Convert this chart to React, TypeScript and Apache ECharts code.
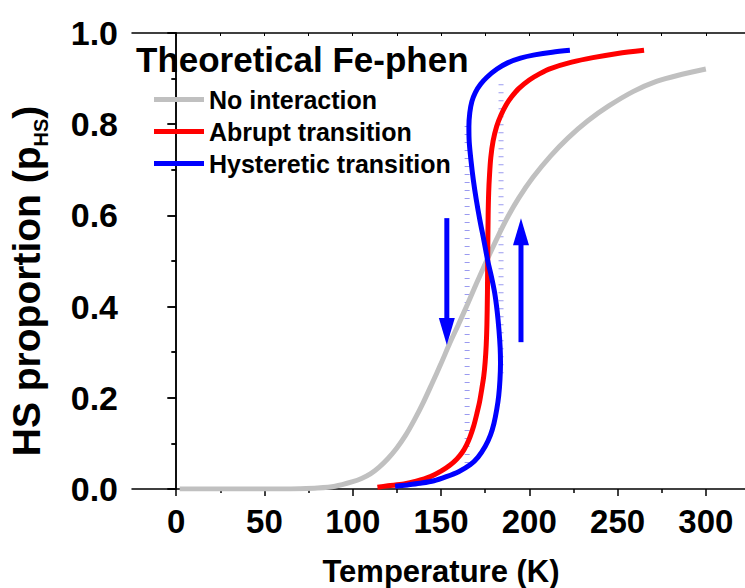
import React, { useEffect, useRef } from "react";
import * as echarts from "echarts";

// ---- data ----
const seriesNames = ["No interaction", "Abrupt transition", "Hysteretic transition"];
const seriesColors = ["#c0c0c0", "#ff0000", "#0000ff"];

// Temperature (K), HS proportion
const noInteraction: number[][] = [
  [2, 0], [20, 0], [40, 0], [60, 0], [70, 0.0005], [80, 0.002], [90, 0.006], [100, 0.016],
  [105, 0.023], [110, 0.033], [115, 0.048], [120, 0.067], [125, 0.09], [130, 0.118], [135, 0.152],
  [140, 0.19], [145, 0.232], [150, 0.275], [155, 0.32], [160, 0.362], [165, 0.405], [170, 0.45],
  [176, 0.502], [182, 0.552], [188, 0.598], [194, 0.638], [202, 0.683], [212, 0.73], [222, 0.77],
  [233, 0.807], [245, 0.84], [259, 0.872], [272, 0.894], [286, 0.909], [300, 0.921],
];

const abrupt: number[][] = [
  [114, 0.004], [120, 0.007], [129, 0.011], [136, 0.017], [144, 0.027], [150, 0.039], [155, 0.052],
  [159, 0.066], [162, 0.08], [164.5, 0.097], [166.5, 0.115], [168.5, 0.138], [170.3, 0.165],
  [171.8, 0.19], [173, 0.217], [174.2, 0.247], [175, 0.278], [175.6, 0.315], [176, 0.36],
  [176.3, 0.43], [176.5, 0.53], [176.7, 0.6], [177, 0.65], [177.5, 0.69], [178.2, 0.727],
  [179.5, 0.763], [181.5, 0.795], [184, 0.82], [187, 0.843], [190, 0.86], [194, 0.878],
  [200, 0.897], [206, 0.911], [212, 0.922], [224, 0.936], [236, 0.946], [250, 0.955], [265, 0.962],
];

const hysteretic: number[][] = [
  [124, 0.006], [131, 0.009], [138, 0.0125], [146, 0.018], [153, 0.027], [160, 0.038],
  [166.5, 0.053], [171, 0.07], [175, 0.093], [178, 0.118], [180, 0.144], [181.6, 0.175],
  [182.7, 0.205], [183.4, 0.24], [183.7, 0.276], [183.5, 0.31], [182.8, 0.35], [181.8, 0.39],
  [180.4, 0.43], [178.6, 0.465], [176.5, 0.5], [174.3, 0.545], [172, 0.59], [170, 0.634],
  [168.3, 0.678], [167, 0.72], [166, 0.76], [165.8, 0.795], [166.3, 0.825], [167.5, 0.85],
  [169.5, 0.87], [172.5, 0.888], [176, 0.903], [181.7, 0.921], [188, 0.935], [195, 0.945],
  [203, 0.952], [213, 0.958], [223, 0.962],
];

// vertical dotted guide lines: [T, pFrom, pTo]
const spinodals: number[][] = [
  [164.8, 0.057, 0.81],
  [184, 0.254, 0.903],
];

// arrows: [T, pStart, pTip]
const arrows: number[][] = [
  [153.3, 0.594, 0.316],
  [195.3, 0.322, 0.594],
];

const xMajorTicks = [0, 50, 100, 150, 200, 250, 300];
const xMinorTicks = [25, 75, 125, 175, 225, 275, 325];
const xAllTicks = [0, 25, 50, 75, 100, 125, 150, 175, 200, 225, 250, 275, 300];

const titleText = "Theoretical Fe-phen";
const xName = "Temperature (K)";
const yNameMain = "HS proportion (p";
const yNameSub = "HS";
const yNameEnd = ")";

const FONT = '"Liberation Sans", Arial, Helvetica, sans-serif';

export default function App() {
  const ref = useRef<HTMLDivElement>(null);

  useEffect(() => {
    const chart = echarts.init(ref.current!, null, { renderer: "svg" });

    const lineSeries = [noInteraction, abrupt, hysteretic].map((d, i) => ({
      type: "line",
      name: seriesNames[i],
      data: d,
      xAxisIndex: 0,
      yAxisIndex: 0,
      showSymbol: false,
      symbol: "none",
      smooth: 0.3,
      z: 3 + i,
      color: seriesColors[i],
      lineStyle: { color: seriesColors[i], width: 5 },
    }));

    const option: any = {
      animation: false,
      backgroundColor: "#ffffff",
      textStyle: { fontFamily: FONT },
      title: {
        text: titleText,
        left: 136,
        top: 42,
        padding: 0,
        textStyle: { fontSize: 35, fontWeight: "bold", color: "#000", fontFamily: FONT },
      },
      legend: {
        data: seriesNames,
        orient: "vertical",
        left: 154,
        top: 87,
        padding: 0,
        itemWidth: 50,
        itemHeight: 5,
        itemGap: 7,
        icon: "rect",
        textStyle: { fontSize: 25, fontWeight: "bold", color: "#000", fontFamily: FONT, lineHeight: 25 },
      },
      grid: { left: 132, right: -5, top: 33, bottom: 99, containLabel: false, outerBoundsMode: "none" },
      xAxis: [
        {
          type: "value",
          position: "bottom",
          min: -25,
          max: 325,
          name: xName,
          nameLocation: "middle",
          nameGap: 67,
          nameTextStyle: { fontSize: 31, fontWeight: "bold", color: "#000", fontFamily: FONT },
          axisLine: { show: true, lineStyle: { color: "#000", width: 1.5 } },
          axisTick: { show: true, inside: false, length: 7, customValues: xMajorTicks, lineStyle: { color: "#000", width: 1.5 } },
          axisLabel: { show: true, customValues: xMajorTicks, margin: 16, fontSize: 33, fontWeight: "bold", color: "#000", fontFamily: FONT },
          splitLine: { show: false },
        },
        {
          type: "value",
          position: "bottom",
          min: -25,
          max: 325,
          axisLine: { show: false },
          axisTick: { show: true, inside: false, length: 4, customValues: xMinorTicks, lineStyle: { color: "#000", width: 1.5 } },
          axisLabel: { show: false },
          splitLine: { show: false },
        },
        {
          type: "value",
          position: "top",
          min: -25,
          max: 325,
          axisLine: { show: true, lineStyle: { color: "#000", width: 1.5 } },
          axisTick: { show: true, inside: true, length: 3, customValues: xAllTicks, lineStyle: { color: "#000", width: 1 } },
          axisLabel: { show: false },
          splitLine: { show: false },
        },
      ],
      yAxis: [
        {
          type: "value",
          position: "left",
          min: 0,
          max: 1,
          interval: 0.2,
          name: `{a|${yNameMain}}{b|${yNameSub}}{c|${yNameEnd}}`,
          nameLocation: "middle",
          nameGap: 86,
          nameTextStyle: {
            fontSize: 39,
            fontWeight: "bold",
            color: "#000",
            fontFamily: FONT,
            rich: {
              a: { fontSize: 39, fontWeight: "bold", color: "#000", fontFamily: FONT, lineHeight: 39 },
              b: { fontSize: 20, fontWeight: "bold", color: "#000", fontFamily: FONT, lineHeight: 20, padding: [29, 0, 0, 0] },
              c: { fontSize: 39, fontWeight: "bold", color: "#000", fontFamily: FONT, lineHeight: 39, padding: [0, 40, 0, 0] },
            },
          },
          axisLine: { show: true, lineStyle: { color: "#000", width: 1.5 } },
          axisTick: { show: true, inside: false, length: 9, lineStyle: { color: "#000", width: 1.5 } },
          minorTick: { show: true, splitNumber: 2, length: 5, lineStyle: { color: "#000", width: 1.5 } },
          axisLabel: {
            show: true,
            margin: 14,
            fontSize: 34,
            fontWeight: "bold",
            color: "#000",
            fontFamily: FONT,
            formatter: (v: number) => v.toFixed(1),
          },
          splitLine: { show: false },
        },
        {
          type: "value",
          position: "right",
          min: 0,
          max: 1,
          interval: 0.2,
          axisLine: { show: true, lineStyle: { color: "#000", width: 1.5 } },
          axisTick: { show: true, inside: true, length: 8, lineStyle: { color: "#000", width: 1.5 } },
          minorTick: { show: true, splitNumber: 2, length: 4, lineStyle: { color: "#000", width: 1.5 } },
          axisLabel: { show: false },
          splitLine: { show: false },
        },
      ],
      series: [
        {
          type: "custom",
          name: "guides",
          data: spinodals,
          xAxisIndex: 0,
          yAxisIndex: 0,
          encode: { x: 0, y: [1, 2] },
          silent: true,
          z: 1,
          renderItem: (params: any, api: any) => {
            const a = api.coord([api.value(0), api.value(1)]);
            const b = api.coord([api.value(0), api.value(2)]);
            return {
              type: "line",
              shape: { x1: a[0], y1: a[1], x2: b[0], y2: b[1] },
              style: { stroke: "#9a9af0", lineWidth: 5, lineDash: [1, 7] },
            };
          },
        },
        ...lineSeries,
        {
          type: "custom",
          name: "arrows",
          data: arrows,
          xAxisIndex: 0,
          yAxisIndex: 0,
          encode: { x: 0, y: [1, 2] },
          silent: true,
          z: 10,
          renderItem: (params: any, api: any) => {
            const p0 = api.coord([api.value(0), api.value(1)]);
            const p1 = api.coord([api.value(0), api.value(2)]);
            const dir = p1[1] > p0[1] ? 1 : -1;
            const headLen = 27;
            const headHalf = 8;
            const baseY = p1[1] - dir * headLen;
            return {
              type: "group",
              children: [
                {
                  type: "line",
                  shape: { x1: p0[0], y1: p0[1], x2: p0[0], y2: baseY + dir * 2 },
                  style: { stroke: "#0000ff", lineWidth: 5 },
                },
                {
                  type: "polygon",
                  shape: { points: [[p1[0] - headHalf, baseY], [p1[0] + headHalf, baseY], [p1[0], p1[1]]] },
                  style: { fill: "#0000ff" },
                },
              ],
            };
          },
        },
      ],
    };

    chart.setOption(option);
    return () => chart.dispose();
  }, []);

  return (
    <div
      ref={ref}
      style={{ position: "absolute", left: 0, top: 0, width: 745, height: 588, background: "#fff" }}
    />
  );
}
